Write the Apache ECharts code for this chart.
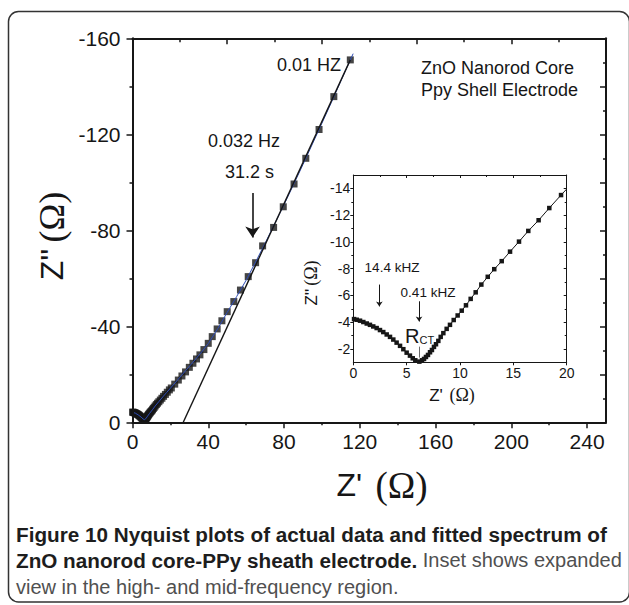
<!DOCTYPE html>
<html>
<head>
<meta charset="utf-8">
<script src="https://cdn.jsdelivr.net/npm/echarts@6/dist/echarts.min.js"></script>
<style>
  html, body { margin: 0; padding: 0; background: #fff; }
  #chart { width: 629px; height: 605px; }
</style>
</head>
<body>
<div id="chart"></div>
<script>
// ---- Impedance data (Ω): Z' = real part, Z'' = imaginary part ----
// High/mid-frequency region: small semicircle and start of the diffusion branch
const hfZre = [0.07, 0.32, 0.63, 0.94, 1.26, 1.56, 1.87, 2.19, 2.50, 2.81, 3.13, 3.44, 3.75, 4.06, 4.38, 4.69, 5.00, 5.31, 5.57, 5.81,
               6.19, 6.44, 6.63, 6.81, 7.00, 7.19, 7.37, 7.56, 7.75, 7.97, 8.19, 8.44, 8.75, 9.06, 9.41, 9.78, 10.16, 10.56, 11.00, 11.47,
               12.00, 12.60, 13.21, 13.91, 14.69, 15.53, 16.40, 17.37, 18.37, 19.47];
const hfZim = [-4.23, -4.18, -4.11, -4.01, -3.90, -3.80, -3.68, -3.56, -3.41, -3.26, -3.08, -2.90, -2.70, -2.47, -2.23, -1.98, -1.72, -1.50, -1.30, -1.15,
               -1.05, -1.15, -1.25, -1.40, -1.55, -1.75, -1.92, -2.15, -2.35, -2.60, -2.90, -3.18, -3.50, -3.80, -4.16, -4.50, -4.86, -5.26, -5.74, -6.23,
               -6.81, -7.39, -7.96, -8.56, -9.27, -10.02, -10.82, -11.62, -12.53, -13.50];
// Low-frequency region up to 0.01 Hz
const lfZre = [20.5, 22.3, 24.2, 26.1, 28.0, 30.0, 31.9, 33.8, 35.6, 37.7, 40.0, 42.1, 44.7, 47.2, 50.0, 53.5, 57.0, 61.1, 65.0, 68.7,
               74.5, 79.6, 85.3, 91.5, 98.5, 106.3, 115.0];
const lfZim = [-14.3, -15.9, -17.6, -19.3, -21.0, -22.9, -24.6, -26.4, -28.1, -30.3, -32.9, -35.7, -38.9, -42.3, -46.1, -50.3, -55.1, -60.7, -66.5, -73.5,
               -81.2, -89.8, -99.3, -110.0, -122.0, -135.7, -151.0];
// Fitted spectrum
const fitZre = [0, 1.5, 3, 4.5, 5.6, 6.3, 7.0, 8.0, 9.0, 10.5, 12, 14, 16, 18, 20, 24, 28, 32, 36, 40, 45, 50, 55, 60, 65, 70, 75, 80, 85, 90, 95, 100, 105, 110, 115, 116.5];
const fitZim = [-4.2, -3.8, -3.1, -2.2, -1.4, -1.1, -1.5, -2.6, -3.7, -5.2, -6.8, -8.7, -10.6, -12.4, -14.2, -17.8, -21.5, -25.1, -28.8, -32.8, -39.0, -45.8,
                -52.4, -59.2, -66.8, -74.6, -82.6, -90.7, -99.0, -107.4, -116.0, -124.6, -133.3, -142.2, -151.0, -153.6];
// Straight line drawn through the low-frequency data
const lineZre = [26.8, 115.0];
const lineZim = [0, -151.0];
// Continuation of the inset line to the frame edge
const insetTailZre = [19.47, 20.0];
const insetTailZim = [-13.50, -13.95];

// ---- Tick values ----
const mainXTicks = [0, 40, 80, 120, 160, 200, 240];
const mainXMinor = [20, 60, 100, 140, 180, 220];
const mainTopTicks = [50, 100, 150, 200, 250];
const mainTopMinor = [25, 75, 125, 175, 225];
const mainYTicks = [-160, -120, -80, -40, 0];
const mainYMinor = [-140, -100, -60, -20];
const mainRightTicks = [-160, -140, -120, -100, -80, -60, -40, -20, 0];
const mainRightMinor = [-150, -130, -110, -90, -70, -50, -30, -10];
const insetXTicks = [0, 5, 10, 15, 20];
const insetXMinor = [2.5, 7.5, 12.5, 17.5];
const insetYTicks = [-14, -12, -10, -8, -6, -4, -2];
const insetYMinor = [-13, -11, -9, -7, -5, -3];

const INK = '#161616';
const SANS = '"Liberation Sans", Arial, Helvetica, sans-serif';
const SERIF = '"Liberation Serif", "Times New Roman", serif';

const pairs = (xs, ys) => xs.map((x, i) => [x, ys[i]]);
const mainPts = pairs(hfZre, hfZim).concat(pairs(lfZre, lfZim));
const insetPts = pairs(hfZre, hfZim);

// One side of a boxed frame: axis line, ticks and (optionally) labels
function side(o) {
  return {
    type: 'value', gridIndex: o.grid, position: o.pos, min: o.min, max: o.max, inverse: !!o.inverse, z: 8,
    axisLine: { show: o.line !== false, onZero: false, lineStyle: { color: INK, width: o.lw || 1 } },
    axisTick: { show: true, inside: !!o.inside, length: o.len, customValues: o.ticks, lineStyle: { color: INK, width: o.tw || 1 } },
    axisLabel: o.labels ? { show: true, customValues: o.labels, fontSize: o.fs, fontFamily: SANS, color: INK, margin: o.margin } : { show: false },
    splitLine: { show: false }, minorTick: { show: false }, minorSplitLine: { show: false }
  };
}

const MX = { grid: 0, min: 0, max: 250 };
const MY = { grid: 0, min: -160, max: 0, inverse: true };
const IX = { grid: 1, min: 0, max: 20 };
const IY = { grid: 1, min: -15, max: -1, inverse: true };

const xAxes = [
  side({ ...MX, pos: 'bottom', lw: 2, len: 6, tw: 1.5, ticks: mainXTicks, labels: mainXTicks, fs: 21, margin: 9 }),
  side({ ...MX, pos: 'bottom', line: false, len: 3, tw: 1.5, ticks: mainXMinor }),
  side({ ...MX, pos: 'top', lw: 2, len: 6, tw: 1.5, inside: true, ticks: mainTopTicks }),
  side({ ...MX, pos: 'top', line: false, len: 4, tw: 1.5, inside: true, ticks: mainTopMinor }),
  side({ ...IX, pos: 'bottom', lw: 1, len: 3, ticks: insetXTicks, labels: insetXTicks, fs: 14, margin: 4 }),
  side({ ...IX, pos: 'top', lw: 1, len: 3, inside: true, ticks: insetXTicks }),
  side({ ...IX, pos: 'top', line: false, len: 2, inside: true, ticks: insetXMinor })
];
const yAxes = [
  side({ ...MY, pos: 'left', lw: 2, len: 6, tw: 1.5, ticks: mainYTicks, labels: mainYTicks, fs: 21, margin: 12 }),
  side({ ...MY, pos: 'left', line: false, len: 3, tw: 1.5, ticks: mainYMinor }),
  side({ ...MY, pos: 'right', lw: 2, len: 6, tw: 1.5, inside: true, ticks: mainRightTicks }),
  side({ ...MY, pos: 'right', line: false, len: 3, tw: 1.5, inside: true, ticks: mainRightMinor }),
  side({ ...IY, pos: 'left', lw: 1, len: 3, ticks: insetYTicks, labels: insetYTicks, fs: 14, margin: 3 }),
  side({ ...IY, pos: 'left', line: false, len: 2, ticks: insetYMinor }),
  side({ ...IY, pos: 'right', lw: 1, len: 3, inside: true, ticks: insetYTicks }),
  side({ ...IY, pos: 'right', line: false, len: 2, inside: true, ticks: insetYMinor })
];

const arrow = (from, to, size, width, xi, yi) => ({
  type: 'lines', coordinateSystem: 'cartesian2d', xAxisIndex: xi, yAxisIndex: yi,
  symbol: ['none', 'arrow'], symbolSize: size, silent: true, z: 6,
  lineStyle: { color: INK, width: width, opacity: 1, curveness: 0 },
  data: [{ coords: [from, to] }]
});

const option = {
  animation: false,
  backgroundColor: '#ffffff',
  grid: [
    { left: 132.5, top: 38.3, width: 473.5, height: 384, show: false },
    { left: 353.3, top: 175, width: 213.4, height: 187.3, show: true, backgroundColor: '#ffffff', borderWidth: 0 }
  ],
  xAxis: xAxes,
  yAxis: yAxes,
  series: [
    { type: 'scatter', name: 'data', xAxisIndex: 0, yAxisIndex: 0, data: mainPts, symbol: 'rect', symbolSize: 7,
      itemStyle: { color: INK }, z: 3, silent: true },
    { type: 'line', name: 'fit', xAxisIndex: 0, yAxisIndex: 0, data: pairs(fitZre, fitZim), showSymbol: false, symbol: 'none',
      lineStyle: { color: '#2e4cb5', width: 1 }, z: 4, silent: true },
    { type: 'line', name: 'line', xAxisIndex: 0, yAxisIndex: 0, data: pairs(lineZre, lineZim), showSymbol: false, symbol: 'none',
      lineStyle: { color: INK, width: 1.4 }, z: 4, silent: true },
    arrow([63.4, -95.5], [63.4, -77.0], 11, 1.6, 0, 0),

    { type: 'line', name: 'inset data', xAxisIndex: 4, yAxisIndex: 4, data: insetPts, symbol: 'rect', symbolSize: 4.5,
      showAllSymbol: true, itemStyle: { color: INK }, lineStyle: { color: INK, width: 1 }, z: 5, silent: true },
    { type: 'line', name: 'inset tail', xAxisIndex: 4, yAxisIndex: 4, data: pairs(insetTailZre, insetTailZim), showSymbol: false, symbol: 'none',
      lineStyle: { color: INK, width: 1 }, z: 5, silent: true },
    arrow([2.44, -6.81], [2.44, -5.18], 5, 1, 4, 4),
    arrow([6.16, -5.56], [6.16, -4.05], 5, 1, 4, 4),
    { type: 'lines', coordinateSystem: 'cartesian2d', xAxisIndex: 4, yAxisIndex: 4, symbol: ['none', 'none'], silent: true, z: 6,
      lineStyle: { color: '#444', width: 0.8, opacity: 1 }, data: [{ coords: [[6.16, -2.17], [6.16, -1.35]] }] }
  ],
  graphic: [
    // outer frame
    { type: 'rect', shape: { x: 8.5, y: 11.5, width: 621, height: 590.5, r: 10 }, style: { fill: 'none', stroke: '#333', lineWidth: 1.5 }, z: 0 },
    // main axis titles
    { type: 'text', x: 52, y: 236, rotation: Math.PI / 2, z: 10,
      style: { text: "{s|Z''}{g| }{o|(Ω)}", align: 'center', verticalAlign: 'middle', fill: INK,
        rich: { s: { fontFamily: SANS, fontSize: 32, fill: INK }, g: { fontSize: 22 }, o: { fontFamily: SERIF, fontSize: 36, fill: INK } } } },
    { type: 'text', x: 382, y: 485, z: 10,
      style: { text: "{s|Z'}{g|  }{o|(Ω)}", align: 'center', verticalAlign: 'middle', fill: INK,
        rich: { s: { fontFamily: SANS, fontSize: 32, fill: INK }, g: { fontSize: 24 }, o: { fontFamily: SERIF, fontSize: 37, fill: INK } } } },
    // main annotations
    { type: 'text', x: 341, y: 65, z: 10, style: { text: '0.01 HZ', font: '18px ' + SANS, fill: INK, align: 'right', verticalAlign: 'middle' } },
    { type: 'text', x: 244, y: 141, z: 10, style: { text: '0.032 Hz', font: '18px ' + SANS, fill: INK, align: 'center', verticalAlign: 'middle' } },
    { type: 'text', x: 249.5, y: 172, z: 10, style: { text: '31.2 s', font: '18px ' + SANS, fill: INK, align: 'center', verticalAlign: 'middle' } },
    { type: 'text', x: 421, y: 68, z: 10, style: { text: 'ZnO Nanorod Core', font: '18px ' + SANS, fill: INK, align: 'left', verticalAlign: 'middle' } },
    { type: 'text', x: 421, y: 90, z: 10, style: { text: 'Ppy Shell Electrode', font: '18px ' + SANS, fill: INK, align: 'left', verticalAlign: 'middle' } },
    // inset titles
    { type: 'text', x: 311, y: 283, rotation: Math.PI / 2, z: 10,
      style: { text: "{s|Z''}{g| }{o|(Ω)}", align: 'center', verticalAlign: 'middle', fill: INK,
        rich: { s: { fontFamily: SANS, fontSize: 17, fill: INK }, g: { fontSize: 10 }, o: { fontFamily: SERIF, fontSize: 18, fill: INK } } } },
    { type: 'text', x: 452, y: 395, z: 10,
      style: { text: "{s|Z'}{g|  }{o|(Ω)}", align: 'center', verticalAlign: 'middle', fill: INK,
        rich: { s: { fontFamily: SANS, fontSize: 17, fill: INK }, g: { fontSize: 12 }, o: { fontFamily: SERIF, fontSize: 18, fill: INK } } } },
    // inset annotations
    { type: 'text', x: 392, y: 267.5, z: 10, style: { text: '14.4 kHZ', font: '13.5px ' + SANS, fill: INK, align: 'center', verticalAlign: 'middle' } },
    { type: 'text', x: 428, y: 292, z: 10, style: { text: '0.41 kHZ', font: '13.5px ' + SANS, fill: INK, align: 'center', verticalAlign: 'middle' } },
    { type: 'text', x: 405, y: 336, z: 10,
      style: { text: '{r|R}{c|CT}', align: 'left', verticalAlign: 'middle', fill: INK,
        rich: { r: { fontFamily: SANS, fontSize: 20, fill: INK }, c: { fontFamily: SANS, fontSize: 11, fill: INK, padding: [8, 0, 0, 0] } } } },
    // caption
    { type: 'text', x: 16, y: 534, z: 10,
      style: { text: '{b|Figure 10 Nyquist plots of actual data and fitted spectrum of}', verticalAlign: 'middle',
        rich: { b: { fontFamily: SANS, fontWeight: 'bold', fontSize: 20.7, fill: '#1d1d1d' } } } },
    { type: 'text', x: 16, y: 560, z: 10,
      style: { text: '{b|ZnO nanorod core-PPy sheath electrode.}{r| Inset shows expanded}', verticalAlign: 'middle',
        rich: { b: { fontFamily: SANS, fontWeight: 'bold', fontSize: 20.7, fill: '#1d1d1d' }, r: { fontFamily: SANS, fontSize: 20, fill: '#505050' } } } },
    { type: 'text', x: 16, y: 587, z: 10,
      style: { text: '{r|view in the high- and mid-frequency region.}', verticalAlign: 'middle',
        rich: { r: { fontFamily: SANS, fontSize: 20, fill: '#505050' } } } }
  ]
};

const chart = echarts.init(document.getElementById('chart'), null, { renderer: 'svg', width: 629, height: 605 });
chart.setOption(option);
</script>
</body>
</html>
